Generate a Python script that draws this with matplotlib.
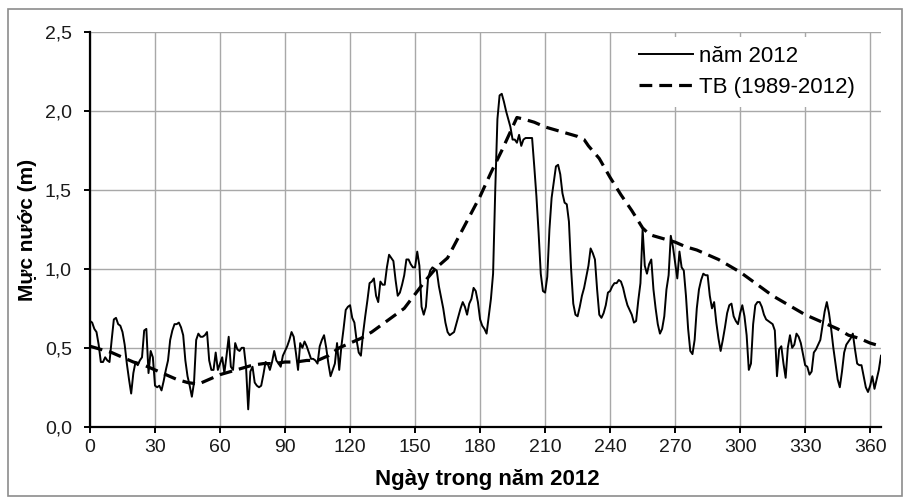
import matplotlib
matplotlib.use("Agg")
import matplotlib.pyplot as plt
from matplotlib.patches import Rectangle
import numpy as np

# daily water level 2012 (m), day 0..365
level_2012 = [
    0.67, 0.66, 0.62, 0.60, 0.52, 0.41, 0.41, 0.44, 0.42, 0.41,
    0.55, 0.68, 0.69, 0.65, 0.64, 0.60, 0.52, 0.40, 0.30, 0.21,
    0.34, 0.41, 0.39, 0.42, 0.44, 0.61, 0.62, 0.34, 0.48, 0.44,
    0.26, 0.25, 0.26, 0.23, 0.29, 0.36, 0.42, 0.55, 0.61, 0.65,
    0.65, 0.66, 0.63, 0.58, 0.42, 0.32, 0.26, 0.19, 0.28, 0.55,
    0.59, 0.57, 0.57, 0.58, 0.60, 0.42, 0.36, 0.36, 0.47, 0.36,
    0.40, 0.44, 0.34, 0.45, 0.57, 0.38, 0.36, 0.53, 0.49, 0.48,
    0.50, 0.50, 0.38, 0.11, 0.35, 0.38, 0.28, 0.26, 0.25, 0.26,
    0.33, 0.41, 0.40, 0.36, 0.41, 0.48, 0.42, 0.40, 0.38, 0.45,
    0.48, 0.51, 0.55, 0.60, 0.57, 0.47, 0.36, 0.53, 0.50, 0.54,
    0.51, 0.47, 0.43, 0.43, 0.42, 0.40, 0.51, 0.55, 0.58, 0.50,
    0.40, 0.32, 0.36, 0.40, 0.53, 0.36, 0.51, 0.62, 0.74, 0.76,
    0.77, 0.69, 0.66, 0.55, 0.47, 0.45, 0.59, 0.70, 0.80, 0.91,
    0.92, 0.94, 0.83, 0.79, 0.92, 0.90, 0.90, 1.01, 1.09, 1.07,
    1.05, 0.93, 0.83, 0.85, 0.90, 0.96, 1.06, 1.06, 1.03, 1.01,
    1.01, 1.11, 1.02, 0.76, 0.71, 0.76, 0.94, 0.99, 1.01, 1.00,
    0.99, 0.89, 0.82, 0.75, 0.66, 0.60, 0.58, 0.59, 0.60, 0.65,
    0.70, 0.75, 0.79, 0.76, 0.71, 0.78, 0.81, 0.88, 0.86, 0.79,
    0.68, 0.64, 0.62, 0.59, 0.70, 0.81, 0.97, 1.50, 1.95, 2.10,
    2.11, 2.06, 2.00, 1.95, 1.90, 1.82, 1.82, 1.80, 1.85, 1.78,
    1.82, 1.83, 1.83, 1.83, 1.83, 1.65, 1.46, 1.23, 0.97, 0.86,
    0.85, 0.95, 1.25, 1.45, 1.55, 1.65, 1.66, 1.60, 1.48, 1.42,
    1.41, 1.30, 1.00, 0.78, 0.71, 0.70, 0.76, 0.83, 0.88, 0.95,
    1.02, 1.13, 1.10, 1.06, 0.87, 0.71, 0.69, 0.72, 0.77, 0.85,
    0.86, 0.89, 0.91, 0.91, 0.93, 0.92, 0.88, 0.82, 0.77, 0.74,
    0.71, 0.66, 0.67, 0.80, 0.91, 1.25, 1.02, 0.97, 1.03, 1.06,
    0.87, 0.75, 0.65, 0.59, 0.62, 0.70, 0.87, 0.96, 1.21, 1.14,
    1.04, 0.94, 1.11, 1.01, 0.99, 0.83, 0.62, 0.48, 0.46, 0.55,
    0.75, 0.87, 0.93, 0.97, 0.96, 0.96, 0.83, 0.75, 0.79, 0.66,
    0.56, 0.48, 0.55, 0.63, 0.72, 0.77, 0.78, 0.70, 0.67, 0.65,
    0.72, 0.77, 0.70, 0.58, 0.36, 0.40, 0.65, 0.77, 0.79, 0.79,
    0.76, 0.71, 0.68, 0.67, 0.66, 0.65, 0.61, 0.32, 0.49, 0.51,
    0.40, 0.31, 0.50, 0.58, 0.50, 0.52, 0.59, 0.57, 0.53, 0.46,
    0.39, 0.38, 0.33, 0.35, 0.47, 0.49, 0.52, 0.55, 0.64, 0.73,
    0.79, 0.72, 0.62, 0.50, 0.40, 0.30, 0.25, 0.35, 0.47, 0.52,
    0.54, 0.56, 0.59, 0.49, 0.40, 0.39, 0.39, 0.32, 0.25, 0.22,
    0.26, 0.32, 0.24, 0.30, 0.36, 0.45,
]

# long-term mean 1989-2012 read at sample days
mean_days = [0, 5, 10, 15, 20, 25, 30, 35, 40, 45, 50, 55, 60, 65, 70, 75, 80, 85,
             90, 95, 100, 105, 110, 115, 120, 125, 130, 135, 140, 145, 150, 155,
             160, 165, 170, 175, 180, 185, 190, 195, 197, 200, 205, 210, 215, 220,
             225, 228, 230, 235, 240, 245, 250, 255, 258, 260, 265, 270, 275, 280,
             285, 290, 295, 300, 305, 310, 315, 320, 325, 330, 335, 340, 345, 350,
             355, 360, 365]
mean_level = [0.51, 0.49, 0.47, 0.44, 0.41, 0.39, 0.36, 0.33, 0.30, 0.28, 0.27, 0.30,
              0.33, 0.35, 0.37, 0.39, 0.40, 0.40, 0.41, 0.41, 0.42, 0.42, 0.45, 0.50,
              0.53, 0.56, 0.60, 0.65, 0.70, 0.75, 0.84, 0.93, 1.01, 1.07, 1.20, 1.33,
              1.46, 1.61, 1.75, 1.90, 1.96, 1.95, 1.93, 1.90, 1.88, 1.86, 1.84, 1.82,
              1.78, 1.70, 1.58, 1.47, 1.37, 1.26, 1.22, 1.21, 1.19, 1.17, 1.14, 1.12,
              1.09, 1.06, 1.02, 0.98, 0.93, 0.88, 0.83, 0.79, 0.75, 0.71, 0.68, 0.65,
              0.62, 0.58, 0.56, 0.53, 0.51]

x_ticks = [0, 30, 60, 90, 120, 150, 180, 210, 240, 270, 300, 330, 360]
y_ticks = [0.0, 0.5, 1.0, 1.5, 2.0, 2.5]
y_tick_labels = ['0,0', '0,5', '1,0', '1,5', '2,0', '2,5']

fonts = ['Liberation Sans', 'DejaVu Sans']
plt.rcParams['font.family'] = fonts

W, H = 905, 498
fig = plt.figure(figsize=(W / 100, H / 100), dpi=100)
ax = fig.add_axes([90 / W, 1 - 426.7 / H, 791 / W, 394.4 / H])

days = np.arange(len(level_2012))
ax.plot(days, level_2012, color='black', lw=1.4, label='năm 2012', zorder=3)
ax.plot(mean_days, mean_level, color='black', lw=2.3, dashes=(4, 2.2),
        label='TB (1989-2012)', zorder=3)

ax.set_xlim(0, 365)
ax.set_ylim(0, 2.5)
ax.set_xticks(x_ticks)
ax.set_yticks(y_ticks)
ax.set_yticklabels(y_tick_labels)
ax.grid(True, color='#a8a8a8', lw=1.0)
ax.set_axisbelow(True)

for s in ['top', 'right']:
    ax.spines[s].set_visible(False)
for s in ['left', 'bottom']:
    ax.spines[s].set_linewidth(1.6)
    ax.spines[s].set_color('black')

ax.tick_params(axis='both', direction='out', length=4, width=1.4,
               labelsize=14, colors='black', labelcolor='#1a1a1a')
ax.tick_params(axis='y', pad=9)
ax.tick_params(axis='x', pad=5)

ax.set_xlabel('Ngày trong năm 2012', fontsize=16, fontweight='bold')
ax.xaxis.set_label_coords(0.502, -0.108)
ax.set_ylabel('Mực nước (m)', fontsize=15, fontweight='bold')
ax.yaxis.set_label_coords(-0.067, 0.5)

leg = ax.legend(loc='upper right', bbox_to_anchor=(0.9785, 0.988), fontsize=16,
                frameon=True, fancybox=False, framealpha=1, facecolor='white',
                edgecolor='none', borderpad=0.4, borderaxespad=0,
                handlelength=2.4, handletextpad=0.3, labelspacing=0.45)

# outer chart border
fig.patches.append(Rectangle((8 / W, 2 / H), 894 / W, 487 / H, transform=fig.transFigure,
                             fill=False, edgecolor='#8c8c8c', lw=1.2))

fig.savefig('out.png', dpi=100)
